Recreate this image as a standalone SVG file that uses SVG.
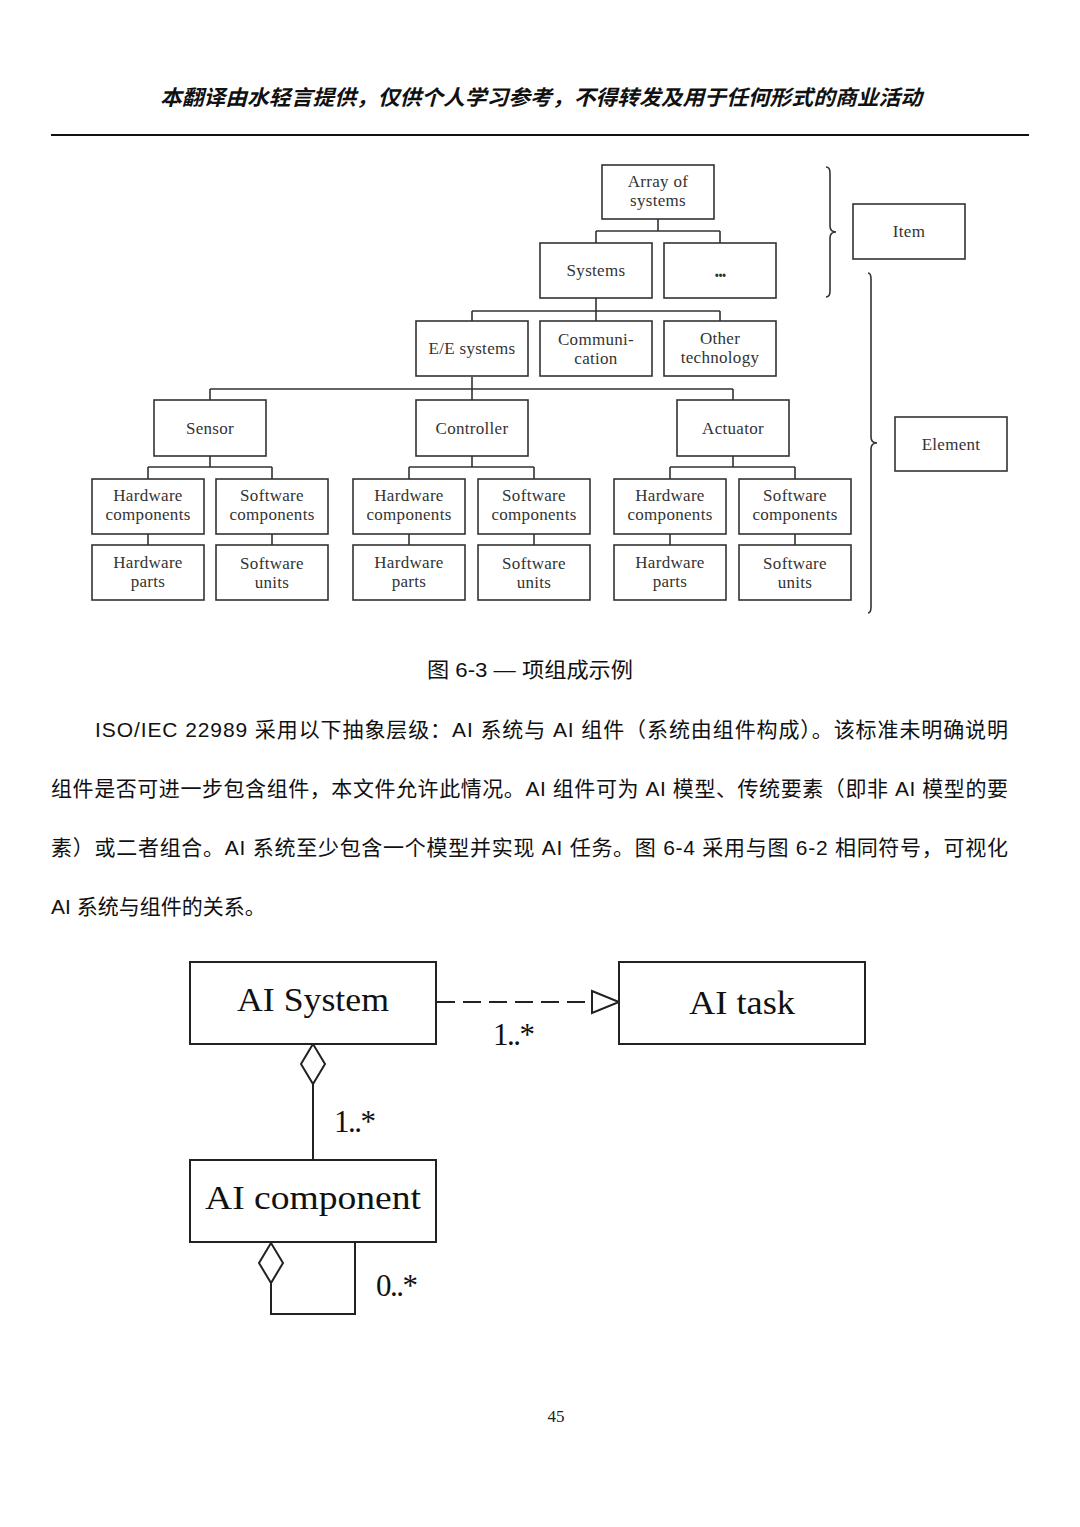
<svg xmlns="http://www.w3.org/2000/svg" width="1080" height="1527" viewBox="0 0 1080 1527">
<style>
.bx{fill:#fff;stroke:#333;stroke-width:1.6}
.tt{font-family:"Liberation Serif","DejaVu Serif",serif;font-size:17px;fill:#333;text-anchor:middle;letter-spacing:0.3px}
.ln{fill:none;stroke:#333;stroke-width:1.6}
.ub{fill:#fff;stroke:#222;stroke-width:2}
.ut{font-family:"Liberation Serif","DejaVu Serif",serif;font-size:34px;fill:#111;text-anchor:middle}
.um{font-family:"Liberation Serif","DejaVu Serif",serif;font-size:31px;fill:#111}
.cn{font-family:"Liberation Sans","Noto Sans CJK SC",sans-serif;font-size:21px;fill:#111}
</style>
<rect width="1080" height="1527" fill="#fff"/>
<text x="541" y="105" text-anchor="middle" textLength="762" lengthAdjust="spacingAndGlyphs" style="font-family:'Noto Sans CJK SC',sans-serif;font-size:21px;font-weight:bold;font-style:italic;fill:#111">本翻译由水轻言提供，仅供个人学习参考，不得转发及用于任何形式的商业活动</text>
<line x1="51" y1="135" x2="1029" y2="135" stroke="#111" stroke-width="1.8"/>

<g id="connectors">
<path class="ln" d="M658,219V231M596,231H720M596,231V243M720,231V243"/>
<path class="ln" d="M596,298V311M472,311H720M472,311V321M596,311V321M720,311V321"/>
<path class="ln" d="M472,377V389M210,389H733M210,389V400M472,389V400M733,389V400"/>
<path class="ln" d="M210,456V467M148,467H272M148,467V479M272,467V479"/>
<path class="ln" d="M472,456V467M409,467H534M409,467V479M534,467V479"/>
<path class="ln" d="M733,456V467M670,467H795M670,467V479M795,467V479"/>
<path class="ln" d="M148,534V545M272,534V545M409,534V545M534,534V545M670,534V545M795,534V545"/>
<path class="ln" d="M826,167Q830,167 830,173L830,226Q830,232 836,232Q830,232 830,238L830,291Q830,297 826,297"/>
<path class="ln" d="M868,273Q871,273 871,279L871,437Q871,443 877,443Q871,443 871,449L871,607Q871,613 868,613"/>
</g>

<g id="n_array"><rect class="bx" x="602" y="165" width="112" height="54"/><text class="tt" x="658" y="187">Array of</text><text class="tt" x="658" y="206">systems</text></g>
<g id="n_systems"><rect class="bx" x="540" y="243" width="112" height="55"/><text class="tt" x="596" y="276">Systems</text></g>
<g id="n_more"><rect class="bx" x="664" y="243" width="112" height="55"/><text class="tt" x="720" y="277" textLength="11" lengthAdjust="spacingAndGlyphs" style="font-weight:bold;font-size:20px;letter-spacing:-1px">...</text></g>
<g id="n_ee"><rect class="bx" x="416" y="321" width="112" height="55"/><text class="tt" x="472" y="354">E/E systems</text></g>
<g id="n_comm"><rect class="bx" x="540" y="321" width="112" height="55"/><text class="tt" x="596" y="345">Communi-</text><text class="tt" x="596" y="364">cation</text></g>
<g id="n_other"><rect class="bx" x="664" y="321" width="112" height="55"/><text class="tt" x="720" y="344">Other</text><text class="tt" x="720" y="363">technology</text></g>
<g id="n_sensor"><rect class="bx" x="154" y="400" width="112" height="56"/><text class="tt" x="210" y="434">Sensor</text></g>
<g id="n_controller"><rect class="bx" x="416" y="400" width="112" height="56"/><text class="tt" x="472" y="434">Controller</text></g>
<g id="n_actuator"><rect class="bx" x="677" y="400" width="112" height="56"/><text class="tt" x="733" y="434">Actuator</text></g>

<g id="n_s_hwc"><rect class="bx" x="92" y="479" width="112" height="55"/><text class="tt" x="148" y="501">Hardware</text><text class="tt" x="148" y="520">components</text></g>
<g id="n_s_swc"><rect class="bx" x="216" y="479" width="112" height="55"/><text class="tt" x="272" y="501">Software</text><text class="tt" x="272" y="520">components</text></g>
<g id="n_c_hwc"><rect class="bx" x="353" y="479" width="112" height="55"/><text class="tt" x="409" y="501">Hardware</text><text class="tt" x="409" y="520">components</text></g>
<g id="n_c_swc"><rect class="bx" x="478" y="479" width="112" height="55"/><text class="tt" x="534" y="501">Software</text><text class="tt" x="534" y="520">components</text></g>
<g id="n_a_hwc"><rect class="bx" x="614" y="479" width="112" height="55"/><text class="tt" x="670" y="501">Hardware</text><text class="tt" x="670" y="520">components</text></g>
<g id="n_a_swc"><rect class="bx" x="739" y="479" width="112" height="55"/><text class="tt" x="795" y="501">Software</text><text class="tt" x="795" y="520">components</text></g>

<g id="n_s_hwp"><rect class="bx" x="92" y="545" width="112" height="55"/><text class="tt" x="148" y="568">Hardware</text><text class="tt" x="148" y="587">parts</text></g>
<g id="n_s_swu"><rect class="bx" x="216" y="545" width="112" height="55"/><text class="tt" x="272" y="569">Software</text><text class="tt" x="272" y="588">units</text></g>
<g id="n_c_hwp"><rect class="bx" x="353" y="545" width="112" height="55"/><text class="tt" x="409" y="568">Hardware</text><text class="tt" x="409" y="587">parts</text></g>
<g id="n_c_swu"><rect class="bx" x="478" y="545" width="112" height="55"/><text class="tt" x="534" y="569">Software</text><text class="tt" x="534" y="588">units</text></g>
<g id="n_a_hwp"><rect class="bx" x="614" y="545" width="112" height="55"/><text class="tt" x="670" y="568">Hardware</text><text class="tt" x="670" y="587">parts</text></g>
<g id="n_a_swu"><rect class="bx" x="739" y="545" width="112" height="55"/><text class="tt" x="795" y="569">Software</text><text class="tt" x="795" y="588">units</text></g>

<g id="n_item"><rect class="bx" x="853" y="204" width="112" height="55"/><text class="tt" x="909" y="237">Item</text></g>
<g id="n_element"><rect class="bx" x="895" y="417" width="112" height="54"/><text class="tt" x="951" y="450">Element</text></g>

<text class="cn" x="530" y="677" text-anchor="middle" textLength="206" lengthAdjust="spacingAndGlyphs" style="font-size:21px">图 6-3 — 项组成示例</text>

<text class="cn" x="95" y="737" textLength="913" lengthAdjust="spacing">ISO/IEC 22989 采用以下抽象层级：AI 系统与 AI 组件（系统由组件构成）。该标准未明确说明</text>
<text class="cn" x="51" y="796" textLength="957" lengthAdjust="spacing">组件是否可进一步包含组件，本文件允许此情况。AI 组件可为 AI 模型、传统要素（即非 AI 模型的要</text>
<text class="cn" x="51" y="855" textLength="957" lengthAdjust="spacing">素）或二者组合。AI 系统至少包含一个模型并实现 AI 任务。图 6-4 采用与图 6-2 相同符号，可视化</text>
<text class="cn" x="51" y="914">AI 系统与组件的关系。</text>

<g id="uml_connectors" fill="none" stroke="#222" stroke-width="2">
<path d="M437,1002H592" stroke-dasharray="18 8"/>
<polygon points="592,991 619,1002 592,1013" fill="#fff"/>
<path d="M313,1084V1160"/>
<polygon points="313,1044 325,1064 313,1084 301,1064" fill="#fff"/>
<path d="M271,1283V1314H355V1243"/>
<polygon points="271,1243 283,1263 271,1283 259,1263" fill="#fff"/>
</g>
<text class="um" x="493" y="1045" letter-spacing="-1.5">1..*</text>
<text class="um" x="334" y="1132" letter-spacing="-1.5">1..*</text>
<text class="um" x="376" y="1296" letter-spacing="-1.5">0..*</text>

<g id="n_ai_system"><rect class="ub" x="190" y="962" width="246" height="82"/><text class="ut" x="313" y="1011" textLength="152" lengthAdjust="spacingAndGlyphs">AI System</text></g>
<g id="n_ai_task"><rect class="ub" x="619" y="962" width="246" height="82"/><text class="ut" x="742" y="1014" textLength="106" lengthAdjust="spacingAndGlyphs">AI task</text></g>
<g id="n_ai_component"><rect class="ub" x="190" y="1160" width="246" height="82"/><text class="ut" x="313" y="1209" textLength="216" lengthAdjust="spacingAndGlyphs">AI component</text></g>

<text x="556" y="1422" text-anchor="middle" style="font-family:'Liberation Serif',serif;font-size:17px;fill:#222">45</text>
</svg>
